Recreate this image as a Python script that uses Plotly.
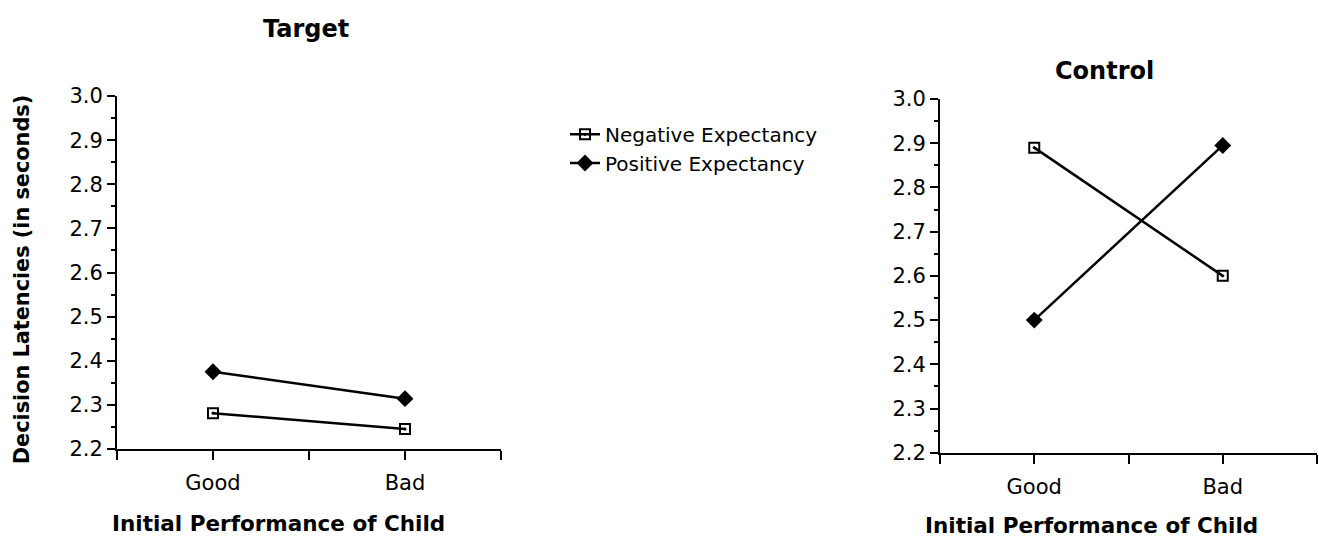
import plotly.graph_objects as go

# ---- data ----
categories = ["Good", "Bad"]
cat_pos = [1, 3]
target_negative = [2.281, 2.245]
target_positive = [2.375, 2.314]
control_negative = [2.89, 2.60]
control_positive = [2.50, 2.895]
y_ticks = [2.2, 2.3, 2.4, 2.5, 2.6, 2.7, 2.8, 2.9, 3.0]
x_tickvals = [0, 1, 2, 3, 4]
x_ticktext = ["", "Good", "", "Bad", ""]

W, H = 1319, 546
FONT = "DejaVu Sans"

def px_x(p):
    return p / W

def px_y(p):
    return 1 - p / H

fig = go.Figure()

neg_marker = dict(symbol="square-open-dot", size=10, color="black", line=dict(width=2, color="black"))
pos_marker = dict(symbol="diamond", size=13, color="black", line=dict(width=0))
line_style = dict(color="black", width=2.5)

fig.add_trace(go.Scatter(x=cat_pos, y=target_negative, mode="lines+markers", name="Negative Expectancy",
                         line=line_style, marker=neg_marker, xaxis="x", yaxis="y", legend="legend"))
fig.add_trace(go.Scatter(x=cat_pos, y=target_positive, mode="lines+markers", name="Positive Expectancy",
                         line=line_style, marker=pos_marker, xaxis="x", yaxis="y", legend="legend2"))
fig.add_trace(go.Scatter(x=cat_pos, y=control_negative, mode="lines+markers", name="Negative Expectancy",
                         line=line_style, marker=neg_marker, xaxis="x2", yaxis="y2", showlegend=False))
fig.add_trace(go.Scatter(x=cat_pos, y=control_positive, mode="lines+markers", name="Positive Expectancy",
                         line=line_style, marker=pos_marker, xaxis="x2", yaxis="y2", showlegend=False))

tickfont = dict(family=FONT, size=21, color="black")

def xaxis_cfg(x0, x1, anchor):
    return dict(domain=[px_x(x0), px_x(x1)], range=[0, 4], tickvals=x_tickvals, ticktext=x_ticktext,
                ticks="outside", ticklen=9, tickwidth=2, tickcolor="black", showline=True, linewidth=2,
                linecolor="black", showgrid=False, zeroline=False, anchor=anchor, tickfont=tickfont,
                ticklabelstandoff=5, fixedrange=True)

def yaxis_cfg(top, bottom, anchor):
    return dict(domain=[px_y(bottom), px_y(top)], range=[2.2, 3.0], tickvals=y_ticks, tickformat=".1f",
                ticks="outside", ticklen=8, tickwidth=2, tickcolor="black", showline=True, linewidth=2,
                linecolor="black", showgrid=False, zeroline=False, anchor=anchor, tickfont=tickfont,
                minor=dict(dtick=0.05, tick0=2.2, ticks="outside", ticklen=4, tickwidth=1.5, tickcolor="black",
                           showgrid=False),
                fixedrange=True)

legend_font = dict(family=FONT, size=20, color="black")

fig.update_layout(
    width=W, height=H,
    margin=dict(l=0, r=0, t=0, b=0),
    paper_bgcolor="white", plot_bgcolor="white",
    xaxis=xaxis_cfg(117, 501, "y"),
    yaxis=yaxis_cfg(88, 457, "x"),
    xaxis2=xaxis_cfg(940, 1317, "y2"),
    yaxis2=yaxis_cfg(91, 461, "x2"),
    showlegend=True,
    legend=dict(x=px_x(565), y=px_y(128), xanchor="left", yanchor="middle",
                font=legend_font, bgcolor="rgba(0,0,0,0)", itemwidth=30),
    legend2=dict(x=px_x(565), y=px_y(158), xanchor="left", yanchor="middle",
                 font=legend_font, bgcolor="rgba(0,0,0,0)", itemwidth=30),
    annotations=[
        dict(text="<b>Target</b>", x=px_x(306), y=px_y(18), xref="paper", yref="paper", showarrow=False,
             font=dict(family=FONT, size=24, color="black"), xanchor="center", yanchor="middle"),
        dict(text="<b>Control</b>", x=px_x(1104), y=px_y(62), xref="paper", yref="paper", showarrow=False,
             font=dict(family=FONT, size=24, color="black"), xanchor="center", yanchor="middle"),
        dict(text="<b>Initial Performance of Child</b>", x=px_x(278), y=px_y(535), xref="paper", yref="paper",
             showarrow=False, font=dict(family=FONT, size=21.5, color="black"), xanchor="center", yanchor="middle"),
        dict(text="<b>Initial Performance of Child</b>", x=px_x(1091), y=px_y(537.5), xref="paper", yref="paper",
             showarrow=False, font=dict(family=FONT, size=21.5, color="black"), xanchor="center", yanchor="middle"),
        dict(text="<b>Decision Latencies (in seconds)</b>", x=px_x(22), y=px_y(280.5), xref="paper", yref="paper",
             showarrow=False, textangle=-90, font=dict(family=FONT, size=20.8, color="black"),
             xanchor="center", yanchor="middle"),
    ],
)

fig.write_html("out.html", config={"displayModeBar": False},
               post_script="document.body.style.margin='0px';document.body.style.overflow='hidden';")
